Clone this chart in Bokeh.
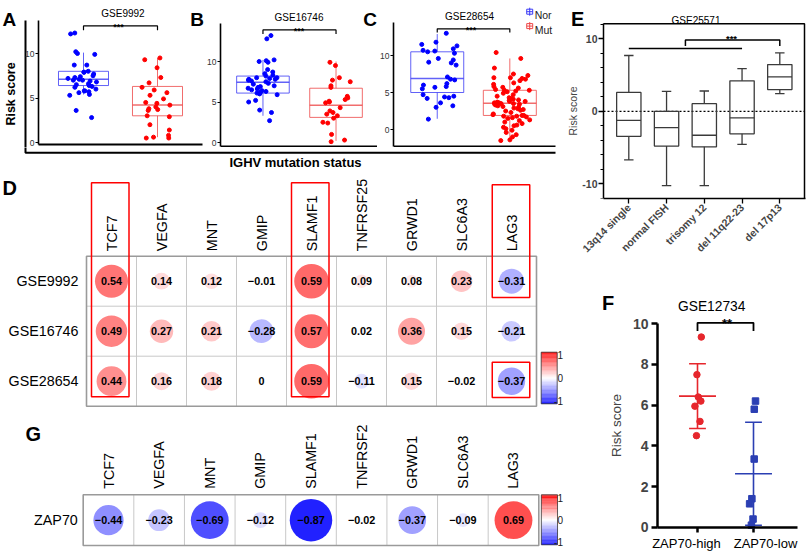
import math
import statistics
from bokeh.plotting import figure
from bokeh.models import ColumnDataSource, Range1d, FixedTicker, Label
from bokeh.layouts import row, column
from bokeh.transform import jitter
from bokeh.embed import file_html
from bokeh.resources import INLINE
from bokeh.core.properties import value

FONT = "Liberation Sans"

# ======================= DATA =======================
ighv_groups = ["Nor", "Mut"]
ighv_axis_title = "IGHV mutation status"
risk_label = "Risk score"
abc_ticks = [0, 5, 10]

a_title = "GSE9992"
a_nor = [12.2, 12.3, 10.2, 10.0, 9.9, 8.7, 8.7, 8.0, 7.9, 7.9, 7.7, 7.5, 7.4, 7.3, 7.2, 7.1, 7.0,
         7.0, 6.9, 6.8, 6.6, 6.5, 6.4, 6.3, 6.2, 6.0, 5.8, 5.8, 5.7, 5.6, 5.4, 5.3, 3.6, 2.8]
a_mut = [9.5, 9.3, 8.4, 7.3, 6.7, 6.2, 5.9, 5.6, 5.3, 4.9, 4.5, 4.4, 4.2, 4.0, 3.8, 3.7, 3.6,
         3.0, 2.9, 2.0, 1.4, 0.8, 0.6, 0.5, 0.5]
a_q1 = [6.4, 3.0]
a_med = [7.1, 4.2]
a_q3 = [8.0, 6.3]
a_lo = [5.4, 0.6]
a_hi = [10.1, 9.5]
a_sig = "***"
a_sig_y = [13.1, 12.6]

b_title = "GSE16746"
b_nor = [13.2, 12.8, 10.2, 10.1, 10.0, 9.9, 9.0, 8.7, 8.5, 8.3, 8.2, 8.0, 8.0, 7.9, 7.8, 7.8, 7.7,
         7.6, 7.5, 7.3, 7.2, 7.0, 6.9, 6.8, 6.7, 6.6, 6.5, 6.4, 6.3, 6.2, 6.1, 6.0, 5.9, 5.2, 5.0,
         4.0, 3.7, 2.7]
b_mut = [9.9, 9.5, 8.0, 7.7, 7.5, 7.0, 6.8, 5.7, 5.5, 5.3, 5.1, 5.0, 4.9, 4.3, 3.9, 3.7, 3.5,
         3.3, 3.0, 2.5, 2.4, 1.0, 0.3, 0.1]
b_q1 = [6.1, 3.1]
b_med = [7.45, 4.6]
b_q3 = [8.2, 6.7]
b_lo = [3.3, 0.2]
b_hi = [10.2, 10.0]
b_sig = "***"
b_sig_y = [13.9, 13.4]

c_title = "GSE28654"
c_nor = [13.0, 11.8, 11.5, 11.3, 10.9, 10.7, 10.6, 10.5, 10.3, 9.6, 9.4, 9.1, 9.0, 8.7, 7.1,
         6.8, 6.7, 6.2, 6.0, 5.8, 5.7, 5.5, 4.7, 4.5, 4.4, 4.3, 4.2, 3.6, 3.2, 3.0, 1.4]
c_mut = [10.4, 9.6, 8.3, 7.5, 7.3, 7.0, 7.0, 6.9, 6.8, 6.6, 6.3, 6.1, 5.8, 5.7, 5.6, 5.4, 5.3,
         5.3, 5.2, 5.1, 4.9, 4.7, 4.5, 4.3, 4.2, 4.1, 4.0, 3.9, 3.8, 3.8, 3.7, 3.6, 3.6, 3.5,
         3.5, 3.4, 3.4, 3.3, 3.2, 3.1, 3.0, 2.9, 2.8, 2.7, 2.6, 2.5, 2.3, 2.1, 2.0, 1.9, 1.9,
         1.8, 1.8, 1.7, 1.6, 1.5, 1.3, 1.2, 1.0, 0.8, 0.6, 0.5, 0.3, 0.1, -0.1, -0.4, -0.7,
         -1.0, -1.4, -1.5]
c_q1 = [5.0, 1.9]
c_med = [6.9, 3.55]
c_q3 = [10.5, 5.3]
c_lo = [1.45, -1.4]
c_hi = [12.9, 9.6]
c_sig = "***"
c_sig_y = [13.6, 13.1]

e_title = "GSE25571"
e_cats = ["13q14 single", "normal FISH", "trisomy 12", "del 11q22-23", "del 17p13"]
e_q1 = [-3.45, -4.8, -4.9, -3.1, 3.0]
e_med = [-1.25, -2.25, -3.3, -0.9, 4.75]
e_q3 = [2.6, 0.0, 1.05, 4.2, 6.45]
e_lo = [-6.7, -10.25, -10.25, -4.55, 2.45]
e_hi = [7.7, 2.75, 2.8, 5.9, 8.05]
e_ticks = [-10, 0, 10]
e_sig = "***"
e_sig_line_y = 8.65
e_sig_br_y = [9.85, 9.0]

f_title = "GSE12734"
f_groups = ["ZAP70-high", "ZAP70-low"]
f_high = [9.35, 7.5, 6.4, 6.2, 5.95, 5.2, 4.5]
f_low = [6.2, 5.8, 3.35, 1.4, 1.15, 0.4, 0.1]
f_ticks = [0, 2, 4, 6, 8, 10]
f_sig = "**"
f_sig_y = [10.05, 9.65]

d_genes = ["TCF7", "VEGFA", "MNT", "GMIP", "SLAMF1", "TNFRSF25", "GRWD1", "SLC6A3", "LAG3"]
d_sets = ["GSE9992", "GSE16746", "GSE28654"]
d_gse9992 = [0.54, 0.14, 0.12, -0.01, 0.59, 0.09, 0.08, 0.23, -0.31]
d_gse16746 = [0.49, 0.27, 0.21, -0.28, 0.57, 0.02, 0.36, 0.15, -0.21]
d_gse28654 = [0.44, 0.16, 0.18, 0.0, 0.59, -0.11, 0.15, -0.02, -0.37]
d_boxed_genes = ["TCF7", "SLAMF1"]
d_boxed_cells = [("GSE9992", "LAG3"), ("GSE28654", "LAG3")]

g_genes = ["TCF7", "VEGFA", "MNT", "GMIP", "SLAMF1", "TNFRSF2", "GRWD1", "SLC6A3", "LAG3"]
g_sets = ["ZAP70"]
g_zap70 = [-0.44, -0.23, -0.69, -0.12, -0.87, -0.02, -0.37, -0.09, 0.69]

cbar_ticks = [1, 0, -1]
cbar_labels = ["1", "0", "-1"]

# ======================= STYLE / LAYOUT =======================
BLUE_PT, RED_PT = "#0000ff", "#ff0000"
BLUE_BOX, RED_BOX = "#3b3bf5", "#ee4848"
F_RED, F_BLUE = "#e6262c", "#2b3fb3"


def amap(p1, v1, p2, v2):
    k = (v2 - v1) / (p2 - p1)
    return lambda p: v1 + (p - p1) * k


def make_panel(gx, gy, fx, fy, xmap, ymap, axes=True):
    kw = {}
    if not axes:
        kw = dict(x_axis_location=None, y_axis_location=None)
    p = figure(width=gx[1] - gx[0], height=gy[1] - gy[0],
               min_border_left=fx[0] - gx[0], min_border_right=gx[1] - fx[1],
               min_border_top=fy[0] - gy[0], min_border_bottom=gy[1] - fy[1],
               x_range=Range1d(xmap(fx[0]), xmap(fx[1])),
               y_range=Range1d(ymap(fy[1]), ymap(fy[0])),
               title=None, toolbar_location=None, tools="", output_backend="svg", **kw)
    p.grid.visible = False
    p.outline_line_color = None
    p.background_fill_color = "white"
    p.border_fill_color = "white"
    try:
        p.frame_align = False
    except Exception:
        pass
    return p


def label(p, x, y, text, size, align="center", baseline="alphabetic", bold=False,
          color="black", angle=0.0):
    p.add_layout(Label(x=x, y=y, text=text, text_font=FONT, text_font_size=f"{size}px",
                       text_align=align, text_baseline=baseline,
                       text_font_style="bold" if bold else "normal",
                       text_color=color, angle=angle))


def style_ighv(p, x_at, xbounds, ybounds, y_at=None):
    ya = p.yaxis[0]
    ya.ticker = FixedTicker(ticks=abc_ticks)
    ya.major_tick_out = 3
    ya.major_tick_in = 0
    ya.minor_tick_out = 0
    ya.minor_tick_in = 0
    ya.axis_line_width = 1.6
    ya.major_tick_line_width = 1
    ya.major_label_text_font = FONT
    ya.major_label_text_font_size = "8.5px"
    ya.major_label_text_color = "#333333"
    ya.major_label_standoff = 1
    ya.bounds = ybounds
    if y_at is not None:
        ya.fixed_location = y_at
    xa = p.xaxis[0]
    xa.ticker = FixedTicker(ticks=[])
    xa.major_tick_out = 0
    xa.major_tick_in = 0
    xa.minor_tick_out = 0
    xa.minor_tick_in = 0
    xa.major_label_standoff = 0
    xa.axis_line_width = 2
    xa.bounds = xbounds
    xa.fixed_location = x_at


def draw_boxes(p, xs, q1, med, q3, lo, hi, width, colors, lw=1.0, alpha=1.0, cap=None, mlw=None):
    h = width / 2
    src = ColumnDataSource(dict(x=xs, q1=q1, med=med, q3=q3, lo=lo, hi=hi,
                                xl=[x - h for x in xs], xr=[x + h for x in xs], c=colors))
    p.segment(x0="x", y0="q3", x1="x", y1="hi", line_color="c", line_width=lw, line_alpha=alpha, source=src)
    p.segment(x0="x", y0="lo", x1="x", y1="q1", line_color="c", line_width=lw, line_alpha=alpha, source=src)
    if cap:
        src.data["cl"] = [x - cap / 2 for x in xs]
        src.data["cr"] = [x + cap / 2 for x in xs]
        p.segment(x0="cl", y0="hi", x1="cr", y1="hi", line_color="c", line_width=lw, line_alpha=alpha, source=src)
        p.segment(x0="cl", y0="lo", x1="cr", y1="lo", line_color="c", line_width=lw, line_alpha=alpha, source=src)
    p.vbar(x="x", width=width, bottom="q1", top="q3", fill_color="white", fill_alpha=0.0,
           line_color="c", line_width=lw, line_alpha=alpha, source=src)
    p.segment(x0="xl", y0="med", x1="xr", y1="med", line_color="c",
              line_width=mlw or lw * 1.5, line_alpha=alpha, source=src)


def draw_points(p, nor, mut, jw):
    src = ColumnDataSource(dict(x=[0] * len(nor) + [1] * len(mut), y=nor + mut,
                                c=[BLUE_PT] * len(nor) + [RED_PT] * len(mut)))
    p.scatter(x=jitter("x", width=jw, distribution="uniform"), y="y", size=4,
              fill_color="c", line_color="c", source=src)


def bracket(p, x0, x1, y, ydrop, lw=1.2):
    p.line(x=[x0, x0, x1, x1], y=[ydrop, y, y, ydrop], line_color="black", line_width=lw)


# ----------------------- Panel A -----------------------
xA = amap(83, 0, 157, 1)
yA = amap(142, 0, 53, 10)
pA = make_panel((0, 204), (0, 147), (0, 204), (0, 147), xA, yA)
style_ighv(pA, yA(144), (xA(38), xA(202)), (yA(144), yA(20)), y_at=xA(38))
draw_boxes(pA, [0, 1], a_q1, a_med, a_q3, a_lo, a_hi, 0.676, [BLUE_BOX, RED_BOX], alpha=0.8)
draw_points(pA, a_nor, a_mut, 0.42)
bracket(pA, 0, 1, a_sig_y[0], a_sig_y[1])
pA.line(x=[xA(25), xA(25)], y=[yA(20), yA(147)], line_color="black", line_width=2)
pA.text(x=[xA(10.5)], y=[yA(93.5)], text=[risk_label], angle=math.pi / 2, text_align="center",
        text_baseline="middle", text_font=value(FONT), text_font_size=value("12.5px"),
        text_font_style=value("bold"), text_color="black")
label(pA, xA(122.5), yA(12.8), a_title, 10)
label(pA, xA(118), yA(26.8), a_sig, 9, bold=True)
label(pA, xA(2), yA(18.5), "A", 19, align="left", bold=True)
label(pA, xA(203.5), yA(18.5), "B", 19, align="right", bold=True)

# ----------------------- Panel B -----------------------
xB = amap(261, 0, 335, 1)
yB = amap(142, 0, 61, 10)
pB = make_panel((204, 377), (0, 147), (218, 377), (0, 147), xB, yB)
style_ighv(pB, yB(146), (xB(218), xB(377)), (yB(146), yB(23)))
draw_boxes(pB, [0, 1], b_q1, b_med, b_q3, b_lo, b_hi, 0.72, [BLUE_BOX, RED_BOX], alpha=0.8)
draw_points(pB, b_nor, b_mut, 0.42)
bracket(pB, 0, 1, b_sig_y[0], b_sig_y[1])
label(pB, xB(297.5), yB(17.3), b_title, 10)
label(pB, xB(297.5), yB(30.5), b_sig, 9, bold=True)
label(pB, xB(376.5), yB(18.5), "C", 19, align="right", bold=True)

# ----------------------- Panel C -----------------------
xC = amap(436, 0, 509, 1)
yC = amap(129, 0, 55, 10)
pC = make_panel((377, 565), (0, 147), (392, 565), (0, 147), xC, yC)
style_ighv(pC, yC(146), (xC(392), xC(555)), (yC(146), yC(22)))
draw_boxes(pC, [0, 1], c_q1, c_med, c_q3, c_lo, c_hi, 0.73, [BLUE_BOX, RED_BOX], alpha=0.8)
draw_points(pC, c_nor, c_mut, 0.55)
bracket(pC, 0, 1, c_sig_y[0], c_sig_y[1])
label(pC, xC(468.5), yC(16), c_title, 10)
label(pC, xC(470), yC(29.5), c_sig, 9, bold=True)
for ry, col, txt in [(11.2, BLUE_BOX, ighv_groups[0]), (25.6, RED_BOX, ighv_groups[1])]:
    lx = xC(529)
    ly = yC(ry)
    pC.rect(x=[lx], y=[ly], width=[6 / 73], height=[5 / 7.4], fill_color="white",
            line_color=col, line_width=1)
    pC.segment(x0=[lx], y0=[yC(ry - 4)], x1=[lx], y1=[yC(ry + 4)], line_color=col, line_width=1)
    pC.segment(x0=[xC(526)], y0=[ly], x1=[xC(532)], y1=[ly], line_color=col, line_width=1)
    label(pC, xC(534), yC(ry + 3.6), txt, 10.5, align="left", color="#222222")

# ----------------------- strip under A-C -----------------------
ident = lambda v: v
pS = make_panel((0, 565), (147, 172), (0, 565), (147, 172), ident, ident, axes=False)
pS.line(x=[25.0, 25.0, 555.0], y=[146.0, 152.3, 152.3], line_color="black", line_width=2)
pS.text(x=[295], y=[162.3], text=[ighv_axis_title], text_align="center", text_baseline="middle",
        text_font=value(FONT), text_font_size=value("13px"), text_font_style=value("bold"),
        text_color="black")


# ----------------------- correlation helpers -----------------------
def rcolor(r):
    if r >= 0:
        g = int(round(255 * (1 - r)))
        return "#%02x%02x%02x" % (255, g, g)
    g = int(round(255 * (1 + r)))
    return "#%02x%02x%02x" % (g, g, 255)


def fmt(v):
    return "0" if v == 0 else f"{v:.2f}".replace("-", "\u2212")


def corr_grid(p, genes, sets, mat, gap, rowlab_x):
    nC, nR = len(genes), len(sets)
    xs, ys, rs = [], [], []
    for i, vals in enumerate(mat):
        for j, v in enumerate(vals):
            xs.append(j + 0.5)
            ys.append(nR - 0.5 - i)
            rs.append(v)
    src = ColumnDataSource(dict(x=xs, y=ys, r=rs,
                                rad=[0.45 * math.sqrt(abs(v)) for v in rs],
                                c=[rcolor(v) for v in rs], t=[fmt(v) for v in rs]))
    vx = list(range(1, nC))
    p.segment(x0=vx, y0=[0] * len(vx), x1=vx, y1=[nR] * len(vx), line_color="#c8c8c8", line_width=1)
    hy = list(range(1, nR))
    if hy:
        p.segment(x0=[0] * len(hy), y0=hy, x1=[nC] * len(hy), y1=hy, line_color="#c8c8c8", line_width=1)
    p.rect(x=[nC / 2], y=[nR / 2], width=[nC], height=[nR], fill_color=None,
           line_color="#9a9a9a", line_width=1.6)
    p.circle(x="x", y="y", radius="rad", fill_color="c", line_color=None, source=src)
    p.text(x="x", y="y", text="t", text_align="center", text_baseline="middle",
           text_font=value(FONT), text_font_size=value("10.8px"), text_font_style=value("bold"),
           text_color="black", source=src)
    p.text(x=[j + 0.5 for j in range(nC)], y=[nR + gap] * nC, text=genes, angle=math.pi / 2,
           text_align="left", text_baseline="middle", text_font=value(FONT),
           text_font_size=value("14.3px"), text_color="black")
    p.text(x=[rowlab_x] * nR, y=[nR - 0.5 - i for i in range(nR)], text=sets,
           text_align="right", text_baseline="middle", text_font=value(FONT),
           text_font_size=value("14.3px"), text_color="black")


def color_bar(p, x0, x1, y0, y1, lab_x):
    n = 64
    vals = [-1 + 2 * (k + 0.5) / n for k in range(n)]
    hh = (y1 - y0) / n
    p.rect(x=[(x0 + x1) / 2] * n, y=[y0 + (k + 0.5) * hh for k in range(n)],
           width=[x1 - x0] * n, height=[hh * 1.08] * n,
           fill_color=[rcolor(v) for v in vals], line_color=None)
    p.rect(x=[(x0 + x1) / 2], y=[(y0 + y1) / 2], width=[x1 - x0], height=[y1 - y0],
           fill_color=None, line_color="#333333", line_width=0.8)
    ty = [y0 + (t + 1) / 2 * (y1 - y0) for t in cbar_ticks]
    ty[0] -= 0.06
    ty[-1] += 0.06
    p.text(x=[lab_x] * len(cbar_ticks), y=ty,
           text=cbar_labels, text_align="right", text_baseline="middle",
           text_font=value(FONT), text_font_size=value("10px"), text_color="#222222")


def red_boxes(p, items):
    p.rect(x=[it[0] for it in items], y=[(it[1] + it[2]) / 2 for it in items],
           width=[0.75] * len(items), height=[it[2] - it[1] for it in items],
           fill_color=None, line_color="#ff0000", line_width=1.5)


# ----------------------- Panel D -----------------------
xD = amap(86, 0, 536, 9)
yD = amap(405.7, 0, 255.7, 3)
pD = make_panel((0, 565), (172, 410), (0, 565), (172, 410), xD, yD, axes=False)
corr_grid(pD, d_genes, d_sets, [d_gse9992, d_gse16746, d_gse28654], 0.1, -0.16)
color_bar(pD, 9.094, 9.414, 0.048, 1.08, xD(562.5))
nRd = len(d_sets)
items = []
for g in d_boxed_genes:
    j = d_genes.index(g)
    items.append((j + 0.475, 0.19, 4.47))
for s, g in d_boxed_cells:
    j = d_genes.index(g)
    i = d_sets.index(s)
    yb = nRd - 1 - i
    items.append((j + 0.49, yb + 0.175, 4.43 if i == 0 else yb + 0.88))
red_boxes(pD, items)
label(pD, xD(2), yD(187.5), "D", 20, align="left", bold=True)

# ----------------------- Panel G -----------------------
xG = amap(82.7, 0, 538.3, 9)
yG = amap(545, 0, 494.3, 1)
pG = make_panel((0, 565), (410, 552), (0, 565), (410, 552), xG, yG, axes=False)
corr_grid(pG, g_genes, g_sets, [g_zap70], 0.118, -0.107)
color_bar(pG, 9.05, 9.37, 0.014, 1.0, xG(562.5))
label(pG, xG(25), yG(433.5), "G", 20, align="left", bold=True)

# ----------------------- Panel E -----------------------
xE = amap(628.3, 0, 779.3, 4)
yE = amap(110.8, 0, 38.3, 10)
pE = make_panel((565, 809), (0, 290), (565, 809), (0, 198), xE, yE)
ya = pE.yaxis[0]
ya.fixed_location = xE(603)
ya.bounds = (yE(198), yE(23.3))
ya.ticker = FixedTicker(ticks=e_ticks, minor_ticks=list(range(-12, 13, 2)))
ya.major_tick_out = 5
ya.major_tick_in = 0
ya.minor_tick_out = 3
ya.minor_tick_in = 0
ya.axis_line_width = 1.5
ya.major_tick_line_width = 1.3
ya.minor_tick_line_width = 1
ya.major_label_text_font = FONT
ya.major_label_text_font_size = "10.5px"
ya.major_label_text_font_style = "bold"
ya.major_label_standoff = 1
ya.major_label_overrides = {t: str(t) for t in e_ticks}
ya.axis_label = risk_label
ya.axis_label_text_font = FONT
ya.axis_label_text_font_size = "10.5px"
ya.axis_label_text_font_style = "normal"
ya.axis_label_standoff = 0
xa = pE.xaxis[0]
xa.bounds = (xE(603), xE(805))
xa.ticker = FixedTicker(ticks=list(range(len(e_cats))))
xa.major_label_overrides = {i: c for i, c in enumerate(e_cats)}
xa.major_label_orientation = math.pi / 4
xa.major_tick_out = 5
xa.major_tick_in = 0
xa.minor_tick_out = 0
xa.minor_tick_in = 0
xa.axis_line_width = 1.5
xa.major_tick_line_width = 1.3
xa.major_label_text_font = FONT
xa.major_label_text_font_size = "10.5px"
xa.major_label_text_font_style = "bold"
xa.major_label_standoff = 2
pE.line(x=[xE(603), xE(804), xE(804)], y=[yE(23.3), yE(23.3), yE(199)], line_color="black", line_width=1.5)
pE.segment(x0=[xE(603)], y0=[0], x1=[xE(804)], y1=[0], line_color="black", line_dash="2 2", line_width=1.2)
draw_boxes(pE, list(range(len(e_cats))), e_q1, e_med, e_q3, e_lo, e_hi, 0.645,
           ["#3a3a3a"] * len(e_cats), lw=1.3, cap=0.25, mlw=1.3)
pE.line(x=[0, 3], y=[e_sig_line_y, e_sig_line_y], line_color="black", line_width=1.5)
bracket(pE, 1.5, 4, e_sig_br_y[0], e_sig_br_y[1], lw=1.5)
label(pE, xE(695.5), yE(20), e_title, 10)
label(pE, xE(731), yE(37.5), e_sig, 9.5, bold=True)
label(pE, xE(570.5), yE(18.5), "E", 20, align="left", bold=True)

# ----------------------- Panel F -----------------------
xF = amap(697, 0, 753, 1)
yF = amap(526.7, 0, 323.3, 10)
pF = make_panel((565, 809), (290, 552), (565, 809), (290, 552), xF, yF)
ya = pF.yaxis[0]
ya.fixed_location = xF(657)
ya.ticker = FixedTicker(ticks=f_ticks)
ya.bounds = (0, 10)
ya.major_tick_out = 6
ya.major_tick_in = 0
ya.minor_tick_out = 0
ya.minor_tick_in = 0
ya.axis_line_width = 2.5
ya.major_tick_line_width = 2.5
ya.major_label_text_font = FONT
ya.major_label_text_font_size = "14px"
ya.major_label_text_font_style = "bold"
ya.major_label_standoff = 3
ya.axis_label = risk_label
ya.axis_label_text_font = FONT
ya.axis_label_text_font_size = "13.5px"
ya.axis_label_text_font_style = "normal"
ya.axis_label_standoff = 6
xa = pF.xaxis[0]
xa.fixed_location = 0
xa.bounds = (xF(657), xF(797))
xa.ticker = FixedTicker(ticks=[])
xa.major_tick_out = 0
xa.major_tick_in = 0
xa.minor_tick_out = 0
xa.minor_tick_in = 0
xa.major_label_standoff = 0
xa.axis_line_width = 2.5
fx_c = list(range(len(f_groups)))
pF.segment(x0=fx_c, y0=[0] * len(fx_c), x1=fx_c, y1=[yF(532)] * len(fx_c),
           line_color="black", line_width=2.5)
pF.text(x=[xF(686), xF(765)], y=[yF(542.5)] * len(f_groups), text=f_groups,
        text_align="center", text_baseline="middle", text_font=value(FONT),
        text_font_size=value("13px"), text_color="black")
f_sets = [f_high, f_low]
f_cols = [F_RED, F_BLUE]
f_means = [statistics.mean(s) for s in f_sets]
f_sds = [statistics.stdev(s) for s in f_sets]
pF.segment(x0=[x - 0.33 for x in fx_c], y0=f_means, x1=[x + 0.33 for x in fx_c], y1=f_means,
           line_color=f_cols, line_width=1.6)
pF.segment(x0=fx_c, y0=[m - s for m, s in zip(f_means, f_sds)], x1=fx_c,
           y1=[m + s for m, s in zip(f_means, f_sds)], line_color=f_cols, line_width=1.6)
for sign in (-1, 1):
    yy = [m + sign * s for m, s in zip(f_means, f_sds)]
    pF.segment(x0=[x - 0.15 for x in fx_c], y0=yy, x1=[x + 0.15 for x in fx_c], y1=yy,
               line_color=f_cols, line_width=1.6)
src_hi = ColumnDataSource(dict(x=[0] * len(f_high), y=f_high))
src_lo = ColumnDataSource(dict(x=[1] * len(f_low), y=f_low))
pF.scatter(x=jitter("x", width=0.14, distribution="uniform"), y="y", size=6.5, marker="circle",
           color=F_RED, source=src_hi)
pF.scatter(x=jitter("x", width=0.14, distribution="uniform"), y="y", size=6.5, marker="square",
           color=F_BLUE, source=src_lo)
bracket(pF, 0, 1, f_sig_y[0], f_sig_y[1], lw=1.8)
label(pF, xF(711.2), yF(306), f_title, 13.8)
label(pF, xF(726.5), yF(323), f_sig, 13, bold=True)
label(pF, xF(601.5), yF(302.5), "F", 20, align="left", bold=True)

# ----------------------- assemble -----------------------
left = column(row(pA, pB, pC), pS, pD, pG)
right = column(pE, pF)
layout = row(left, right)
open("out.html", "w").write(file_html(layout, INLINE, title="Risk score panels"))
